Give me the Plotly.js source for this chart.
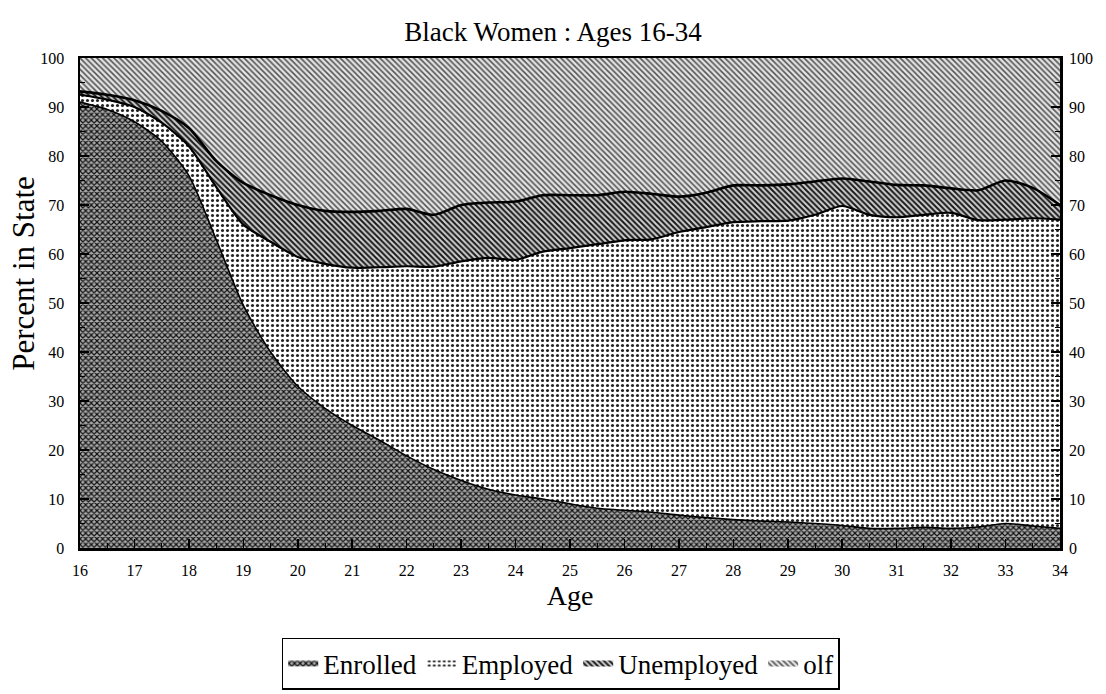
<!DOCTYPE html>
<html>
<head>
<meta charset="utf-8">
<script src="https://cdn.plot.ly/plotly-3.0.1.min.js"></script>
<style>
  html, body { margin: 0; padding: 0; background: #fff; }
  #chart { width: 1106px; height: 694px; }
</style>
</head>
<body>
<div id="chart"></div>
<script>
// Ages (half-year steps)
const ages = [16,16.5,17,17.5,18,18.5,19,19.5,20,20.5,21,21.5,22,22.5,23,23.5,24,24.5,25,25.5,26,26.5,27,27.5,28,28.5,29,29.5,30,30.5,31,31.5,32,32.5,33,33.5,34];

// Percent in each state (stacked from bottom)
const enrolled   = [91,89.5,87,83,76,63,49.5,40,33,28.5,25,22,18.8,16,13.8,12,10.8,10,9,8.1,7.7,7.3,6.7,6.2,5.8,5.5,5.3,5.0,4.6,4.0,4.0,4.2,4.0,4.3,5.0,4.5,4.0];
const employed   = [1.5,2.0,3.0,3.8,6.0,10.7,16.5,22.5,26.4,29.5,32.2,35.3,38.7,41.4,44.7,47.2,48.0,50.5,52.2,53.9,55.1,55.7,57.8,59.3,60.7,61.2,61.5,63.0,65.2,64.0,63.5,63.8,64.4,62.6,62.0,62.8,63.0];
const unemployed = [0.7,1.0,1.4,2.4,3.7,5.3,8.5,9.5,10.6,10.8,11.4,11.5,11.7,10.6,11.5,11.3,11.9,11.5,10.8,10.0,9.9,9.3,7.2,7.0,7.5,7.3,7.4,6.8,5.6,6.8,6.6,6.0,5.0,6.1,8.0,6.2,3.0];
const olf        = [6.8,7.5,8.6,10.8,14.3,21,25.5,28,30,31.2,31.4,31.2,30.8,32,30,29.5,29.3,28,28,28,27.3,27.7,28.3,27.5,26,26,25.8,25.2,24.6,25.2,25.9,26,26.6,27,25,26.5,30];

const seriesNames = ['Enrolled','Employed','Unemployed','olf'];
const yTicks = [0,10,20,30,40,50,60,70,80,90,100];
const xTicks = [16,17,18,19,20,21,22,23,24,25,26,27,28,29,30,31,32,33,34];

const font = 'Liberation Serif, Times New Roman, serif';
const lineShape = {shape: 'spline', smoothing: 0.7};

function area(name, y, pattern) {
  return {
    x: ages, y: y, name: name, type: 'scatter', mode: 'none',
    stackgroup: 'areas',
    line: Object.assign({width: 0, color: '#000'}, lineShape),
    fillpattern: pattern,
    hoverinfo: 'x+y+name'
  };
}
function edge(y, width) {
  return {
    x: ages, y: y, type: 'scatter', mode: 'lines',
    stackgroup: 'edges', fill: 'none', showlegend: false, hoverinfo: 'skip',
    line: Object.assign({width: width, color: width > 0 ? '#000' : 'rgba(0,0,0,0)'}, lineShape)
  };
}

const traces = [
  area(seriesNames[0], enrolled,
     {shape: 'x', size: 4, solidity: 0.5, fgcolor: '#111', bgcolor: '#aaaaaa', fillmode: 'replace'}),
  area(seriesNames[1], employed,
     {shape: '.', size: 5, solidity: 0.3, fgcolor: '#222', bgcolor: '#ffffff', fillmode: 'replace'}),
  area(seriesNames[2], unemployed,
     {shape: '\\', size: 4, solidity: 0.5, fgcolor: '#1a1a1a', bgcolor: '#d0d0d0', fillmode: 'replace'}),
  area(seriesNames[3], olf,
     {shape: '\\', size: 4, solidity: 0.4, fgcolor: '#555', bgcolor: '#e4e4e4', fillmode: 'replace'}),
  edge(enrolled, 1.6),
  edge(employed, 2.2),
  edge(unemployed, 2.6)
];

const layout = {
  width: 1106, height: 694,
  paper_bgcolor: '#fff', plot_bgcolor: '#fff',
  margin: {l: 80, r: 46, t: 58, b: 146},
  font: {family: font, color: '#000', size: 16},
  title: {text: 'Black Women : Ages 16-34', font: {family: font, size: 27, color: '#000'},
          x: 0.5, xanchor: 'center', y: 0.955, yanchor: 'middle'},
  showlegend: true,
  legend: {
    orientation: 'h', traceorder: 'normal',
    xref: 'container', yref: 'container',
    x: 0.507, xanchor: 'center', y: 0.006, yanchor: 'bottom',
    bordercolor: '#000', borderwidth: 1.5, bgcolor: '#fff',
    font: {family: font, size: 27, color: '#000'},
    itemwidth: 30
  },
  annotations: [{
    text: 'Percent in State', textangle: -90, showarrow: false,
    xref: 'paper', yref: 'paper', x: -0.058, y: 0.56, xanchor: 'center', yanchor: 'middle',
    font: {family: font, size: 31, color: '#000'}
  }],
  xaxis: {
    range: [16, 34], tickvals: xTicks, ticktext: xTicks.map(String),
    ticks: 'inside', ticklen: 9, tickwidth: 1.5, tickcolor: '#000',
    minor: {ticks: 'inside', dtick: 0.5, tick0: 16, ticklen: 5, tickwidth: 1, tickcolor: '#000'},
    showline: true, linecolor: '#000', linewidth: 2.5, mirror: true,
    showgrid: false, zeroline: false,
    tickfont: {family: font, size: 16}, ticklabelstandoff: 6,
    title: {text: 'Age', font: {family: font, size: 28}, standoff: 8}
  },
  yaxis: {
    range: [0, 100], tickvals: yTicks, ticktext: yTicks.map(String),
    ticks: 'inside', ticklen: 9, tickwidth: 1.5, tickcolor: '#000',
    minor: {ticks: 'inside', dtick: 5, tick0: 0, ticklen: 5, tickwidth: 1, tickcolor: '#000'},
    showline: true, linecolor: '#000', linewidth: 2.5, mirror: true,
    showgrid: false, zeroline: false,
    tickfont: {family: font, size: 16}, ticklabelstandoff: 10
  },
  yaxis2: {
    range: [0, 100], overlaying: 'y', side: 'right', anchor: 'x',
    tickvals: yTicks, ticktext: yTicks.map(String),
    ticks: 'inside', ticklen: 9, tickwidth: 1.5, tickcolor: '#000',
    minor: {ticks: 'inside', dtick: 5, tick0: 0, ticklen: 5, tickwidth: 1, tickcolor: '#000'},
    showgrid: false, zeroline: false, showline: false,
    tickfont: {family: font, size: 16}, ticklabelstandoff: 8
  }
};

traces.push({x: [], y: [], yaxis: 'y2', type: 'scatter', mode: 'lines', showlegend: false, hoverinfo: 'skip'});

Plotly.newPlot('chart', traces, layout, {displayModeBar: false, staticPlot: true});
</script>
</body>
</html>
